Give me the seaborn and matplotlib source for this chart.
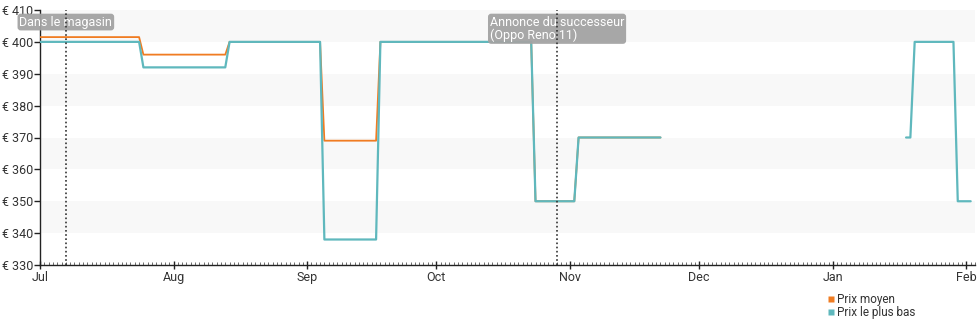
import matplotlib
matplotlib.use("Agg")
import matplotlib.pyplot as plt
import matplotlib.dates as mdates
import seaborn as sns
import pandas as pd
from matplotlib.lines import Line2D

# ---- data ----
avg_dates = ["2023-07-01", "2023-07-24", "2023-07-25", "2023-08-13", "2023-08-14",
             "2023-09-04", "2023-09-05", "2023-09-17", "2023-09-18", "2023-10-23",
             "2023-10-24", "2023-11-02", "2023-11-03", "2023-11-22"]
avg_values = [401.5, 401.5, 396, 396, 400, 400, 369, 369, 400, 400, 350, 350, 370, 370]

low_dates = ["2023-07-01", "2023-07-24", "2023-07-25", "2023-08-13", "2023-08-14",
             "2023-09-04", "2023-09-05", "2023-09-17", "2023-09-18", "2023-10-23",
             "2023-10-24", "2023-11-02", "2023-11-03", "2023-11-22"]
low_values = [400, 400, 392, 392, 400, 400, 338, 338, 400, 400, 350, 350, 370, 370]

low2_dates = ["2024-01-18", "2024-01-19", "2024-01-20", "2024-01-29", "2024-01-30", "2024-02-02"]
low2_values = [370, 370, 400, 400, 350, 350]

event_dates = ["2023-07-07", "2023-10-29"]
event_labels = ["Dans le magasin", "Annonce du successeur\n(Oppo Reno 11)"]

month_ticks = ["2023-07-01", "2023-08-01", "2023-09-01", "2023-10-01", "2023-11-01",
               "2023-12-01", "2024-01-01", "2024-02-01"]
month_labels = ["Jul", "Aug", "Sep", "Oct", "Nov", "Dec", "Jan", "Feb"]
y_ticks = [330, 340, 350, 360, 370, 380, 390, 400, 410]

series_names = ["Prix moyen", "Prix le plus bas"]
colors = ["#f07c22", "#5fb8bd"]

# ---- plot ----
sns.set_theme(style="white")
plt.rcParams["font.family"] = ["Roboto", "DejaVu Sans"]

fig = plt.figure(figsize=(9.8, 3.25), dpi=100)
ax = fig.add_axes([40 / 980, 60 / 325, 935 / 980, 255 / 325])

df_avg = pd.DataFrame({"date": pd.to_datetime(avg_dates), "price": avg_values})
df_low = pd.DataFrame({"date": pd.to_datetime(low_dates), "price": low_values})
df_low2 = pd.DataFrame({"date": pd.to_datetime(low2_dates), "price": low2_values})

sns.lineplot(data=df_avg, x="date", y="price", ax=ax, color=colors[0], lw=1.3, zorder=3)
sns.lineplot(data=df_low, x="date", y="price", ax=ax, color=colors[1], lw=1.6, zorder=4)
sns.lineplot(data=df_low2, x="date", y="price", ax=ax, color=colors[1], lw=1.6, zorder=4)

# background bands
for lo in range(340, 410, 20):
    ax.axhspan(lo, lo + 10, color="#f8f8f8", zorder=0, lw=0)

ax.set_xlim(pd.Timestamp("2023-07-01"), pd.Timestamp("2024-02-03"))
ax.set_ylim(330, 410)
ax.set_yticks(y_ticks)
ax.set_yticklabels([f"€ {v}" for v in y_ticks])
ax.set_xticks(pd.to_datetime(month_ticks))
ax.set_xticklabels(month_labels)
ax.xaxis.set_minor_locator(mdates.DayLocator())
ax.set_xlabel("")
ax.set_ylabel("")
ax.grid(False)

for s in ["top", "right"]:
    ax.spines[s].set_visible(False)
for s in ["left", "bottom"]:
    ax.spines[s].set_color("#222222")
    ax.spines[s].set_linewidth(1.0)

ax.tick_params(axis="y", which="major", direction="out", length=4, width=1,
               color="#222222", labelsize=9, labelcolor="#333333", pad=1, left=True)
ax.tick_params(axis="x", which="major", direction="inout", length=6, width=1,
               color="#222222", labelsize=9, labelcolor="#333333", pad=1, bottom=True)
ax.tick_params(axis="x", which="minor", direction="in", length=2, width=0.6,
               color="#555555", bottom=True)

# events
for d, lab in zip(event_dates, event_labels):
    dt = pd.Timestamp(d)
    ax.axvline(dt, color="#333333", lw=1.2, ls=(0, (1, 1.5)), zorder=6)
    ax.annotate(lab, xy=(dt, 410), xytext=(0, -4), textcoords="offset points",
                ha="center", va="top", multialignment="left", fontsize=9,
                color="white", zorder=5, linespacing=1.0, annotation_clip=False,
                bbox=dict(boxstyle="round,pad=0.15,rounding_size=0.25",
                          fc="#a3a3a3", ec="none", alpha=0.95))

# legend
handles = [Line2D([0], [0], marker="s", color="none", markerfacecolor=c,
                  markeredgecolor="none", markersize=5) for c in colors]
fig.legend(handles, series_names, loc="upper left", bbox_to_anchor=(822 / 980, 1 - 287 / 325),
           frameon=False, fontsize=8.5, handlelength=0.6, handletextpad=0.2,
           labelspacing=0.0, borderpad=0, labelcolor="#333333")

fig.savefig("out.png", dpi=100)
